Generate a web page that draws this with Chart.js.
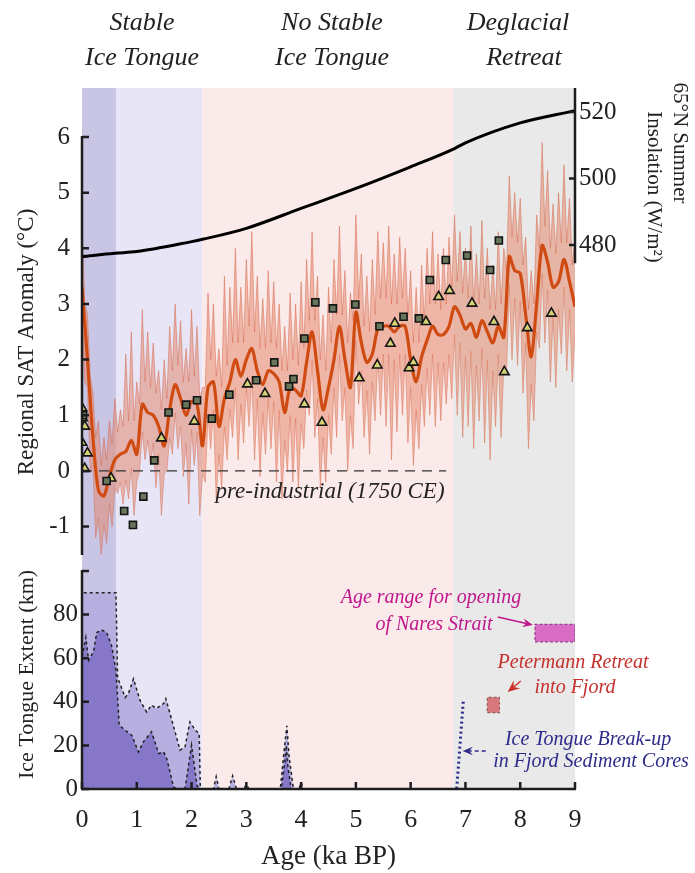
<!DOCTYPE html>
<html>
<head>
<meta charset="utf-8">
<title>Petermann ice tongue and regional temperature</title>
<script src="https://cdn.jsdelivr.net/npm/chart.js@4.4.1/dist/chart.umd.min.js"></script>
<style>
  html, body { margin: 0; padding: 0; background: #fff; }
  canvas { display: block; }
</style>
</head>
<body>
<canvas id="chart" width="695" height="873"></canvas>
<script>
// shaded periods behind both panels (ka BP)
var periodStart = [0, 0.62, 2.2, 6.78];
var periodEnd = [0.62, 2.2, 6.78, 9];
var periodColor = ['#c9c6e5', '#e7e5f6', '#fbeaea', '#e9e9e9'];

// 65N summer insolation (W/m2)
var insolAge = [0, 0.6, 1, 2, 2.2, 3, 4, 5, 6, 6.8, 7, 8, 9];
var insol = [476.5, 477.5, 478, 481, 481.7, 485, 491, 497, 503.5, 509, 510.7, 516.7, 520.4];

// regional SAT anomaly envelope, upper and lower bounds (every 0.05 ka)
var envStep = 0.05;
var upperT = [
  4.5, 3.0, 2.8, 1.7, 1.4, 0.6, 0.9, 0.1, 0.6, 0.2,
  0.9, 0.5, 1.3, 0.7, 1.1, 0.8, 2.1, 0.9, 2.5, 0.9,
  1.6, 1.2, 2.9, 1.6, 2.5, 1.5, 2.3, 1.4, 1.8, 1.1,
  2.0, 1.3, 2.6, 1.8, 3.0, 1.9, 2.7, 1.6, 2.2, 1.6,
  2.9, 1.7, 2.6, 1.3, 1.5, 1.5, 3.2, 2.0, 3.0, 1.7,
  2.2, 1.5, 3.5, 1.9, 3.3, 2.3, 4.0, 2.3, 3.3, 2.3,
  3.8, 2.6, 4.3, 2.5, 3.5, 2.2, 3.1, 2.2, 3.6, 2.3,
  3.4, 2.2, 3.0, 1.8, 2.6, 1.8, 3.2, 2.0, 3.0, 1.9,
  3.4, 2.2, 3.8, 2.7, 4.3, 2.7, 3.5, 2.0, 2.8, 1.8,
  3.3, 2.3, 3.8, 2.8, 4.4, 2.8, 3.6, 2.3, 3.2, 2.7,
  4.6, 3.1, 3.9, 2.6, 3.5, 2.5, 3.8, 2.8, 4.3, 3.1,
  4.1, 3.1, 4.4, 3.0, 3.9, 3.0, 4.2, 3.1, 4.0, 2.8,
  3.6, 2.3, 3.3, 2.3, 3.7, 2.7, 4.0, 3.0, 4.3, 3.0,
  3.9, 2.9, 4.0, 3.0, 4.2, 3.3, 4.6, 3.4, 4.3, 3.2,
  4.0, 3.1, 4.4, 3.0, 3.9, 3.0, 4.5, 3.1, 4.0, 2.9,
  3.7, 2.9, 4.3, 3.0, 4.0, 3.6, 5.3, 4.2, 5.0, 4.1,
  4.9, 3.7, 4.2, 2.9, 3.6, 3.0, 4.6, 4.0, 5.9, 4.4,
  5.4, 4.0, 4.8, 3.9, 5.0, 4.1, 5.5, 4.1, 4.9, 3.7,
  4.2
];
var lowerT = [
  2.8, 1.6, 1.5, 0.0, 0.1, -1.2, -0.85, -1.5, -0.95, -1.3,
  -0.6, -1.0, -0.3, -0.4, -0.2, -0.6, -0.15, -0.5, 0.05, -0.8,
  -0.2, 0.0, 0.7, 0.2, 0.55, 0.1, 0.5, -0.3, 0.3, -0.8,
  -0.05, 0.0, 0.6, 0.3, 1.05, 0.4, 0.8, -0.1, 0.5, -0.6,
  0.75, 0.1, 0.7, -0.8, -0.05, -0.2, 1.0, 0.4, 1.1, -0.5,
  0.3, -0.3, 0.8, 0.2, 1.1, 0.6, 1.5, 0.2, 1.2, 0.5,
  1.5, 0.8, 1.7, 0.2, 1.3, -0.1, 1.05, 0.3, 1.3, 0.4,
  1.25, -0.2, 1.1, -0.5, 0.55, 0.0, 1.0, -0.2, 0.95, -0.3,
  0.85, 0.4, 1.45, 1.0, 2.0, 0.6, 1.3, -0.3, 0.6, -0.2,
  1.0, 0.3, 1.5, 0.6, 2.1, 0.9, 1.5, 0.0, 1.0, 0.4,
  2.35, 1.2, 1.8, 0.6, 1.45, 0.3, 1.6, 0.9, 2.05, 1.0,
  2.1, 0.8, 2.1, 0.2, 2.0, 0.7, 2.1, 1.0, 2.1, 0.5,
  1.5, 0.1, 1.1, 0.4, 1.55, 0.8, 1.85, 1.0, 2.1, 0.8,
  1.95, 0.9, 1.95, 1.2, 2.1, 1.3, 2.45, 1.0, 2.3, 0.6,
  2.05, 0.8, 2.15, 0.4, 1.9, 0.9, 2.2, 0.5, 2.0, 0.2,
  1.8, 0.8, 2.1, 0.6, 1.9, 1.8, 3.35, 2.0, 3.1, 1.9,
  3.05, 1.4, 2.3, 0.4, 1.55, 0.9, 2.5, 2.2, 3.55, 2.3,
  3.25, 1.6, 2.8, 1.5, 2.9, 2.1, 3.3, 1.8, 2.9, 1.6,
  2.45
];

// smoothed SAT anomaly (every 0.1 ka)
var smoothStep = 0.1;
var smoothT = [
  3.3, 2.0, 0.6, -0.35, -0.45, -0.1, 0.2, 0.3, 0.35, 0.55,
  0.3, 1.2, 1.05, 1.0, 0.8, 0.45, 1.1, 1.55, 1.3, 1.0,
  1.25, 1.2, 0.45, 1.5, 1.6, 0.8, 1.3, 1.6, 2.0, 1.7,
  2.0, 2.2, 1.8, 1.55, 1.8, 1.75, 1.6, 1.05, 1.5, 1.45,
  1.35, 1.95, 2.5, 1.8, 1.1, 1.5, 2.0, 2.6, 2.0, 1.5,
  2.85, 2.3, 1.95, 2.1, 2.55, 2.6, 2.6, 2.5, 2.6, 2.6,
  2.0, 1.6, 2.05, 2.35, 2.6, 2.45, 2.45, 2.6, 2.95, 2.8,
  2.55, 2.65, 2.4, 2.7, 2.5, 2.3, 2.6, 2.4, 3.85, 3.6,
  3.55, 2.8, 2.05, 3.0, 4.05, 3.75, 3.3, 3.4, 3.8, 3.4,
  2.95
];

// pre-industrial reference level
var preAge = [0, 6.65];
var preT = [0, 0];

// proxy sites: squares and triangles
var sqAge = [0.02, 0.45, 0.77, 0.93, 1.12, 1.32, 1.58, 1.9, 2.1, 2.37, 2.69, 3.18, 3.51, 3.78, 3.86, 4.06, 4.26, 4.58, 4.99, 5.43, 5.87, 6.15, 6.35, 6.64, 7.03, 7.45, 7.61];
var sqT = [1.0, -0.18, -0.72, -0.97, -0.46, 0.19, 1.05, 1.19, 1.27, 0.94, 1.37, 1.63, 1.95, 1.52, 1.65, 2.38, 3.03, 2.92, 2.99, 2.6, 2.77, 2.74, 3.43, 3.79, 3.87, 3.61, 4.14];
var triAge = [0.0, 0.01, 0.05, 0.0, 0.1, 0.05, 0.53, 1.45, 2.05, 3.02, 3.34, 4.06, 4.38, 5.06, 5.39, 5.63, 5.71, 5.97, 6.05, 6.28, 6.51, 6.71, 7.12, 7.52, 7.71, 8.13, 8.57];
var triT = [1.13, 0.95, 0.8, 0.51, 0.32, 0.04, -0.13, 0.59, 0.89, 1.56, 1.39, 1.2, 0.87, 1.67, 1.9, 2.29, 2.65, 1.85, 1.95, 2.68, 3.13, 3.24, 3.01, 2.68, 1.78, 2.57, 2.83];

// ice tongue extent (km): upper bound and best estimate
var outerAge = [0, 0, 0.62, 0.65, 0.79, 0.85, 0.94, 1.06, 1.18, 1.27, 1.36, 1.49, 1.53, 1.64, 1.79, 1.88, 1.97, 2.07, 2.14, 2.16, 2.4, 2.45, 2.5, 2.68, 2.75, 2.82, 2.95, 3.0, 3.05, 3.62, 3.7, 3.74, 3.78, 3.86, 3.96, 4.0, 4.04, 4.1];
var outerKm = [0, 90, 90, 51, 42, 44, 50.5, 40.6, 35.3, 38.4, 36.9, 39.2, 41.4, 31.6, 17.8, 19.3, 30.7, 26.9, 25.4, 0, 0, 5.6, 0, 0, 6, 0, 0, 2, 0, 0, 20, 29, 15, 0, 0, 3, 0, 0];
var innerAge = [0, 0, 0.07, 0.12, 0.21, 0.27, 0.36, 0.45, 0.54, 0.62, 0.68, 0.79, 0.91, 1.03, 1.12, 1.27, 1.4, 1.49, 1.55, 1.67, 1.73, 1.88, 2.0, 2.1, 2.14, 3.64, 3.7, 3.73, 3.76, 3.82];
var innerKm = [0, 60.4, 69.5, 59, 63, 71.8, 72.9, 71.8, 65.7, 54.3, 29.2, 26.9, 24.6, 17, 21.6, 26.2, 16.3, 17, 13.7, 1, 0, 0, 20, 1.5, 0, 0, 12, 20, 10, 0];

// independent constraints
var naresAge = [8.27, 9.0];
var naresKm = [67.5, 75.5];
var peteAge = [7.4, 7.62];
var peteKm = [35, 42];
var breakAge = [6.96, 6.84];
var breakKm = [40, 0];

var tempTicks = [-1, 0, 1, 2, 3, 4, 5, 6];
var extentTicks = [0, 20, 40, 60, 80];
var insolTicks = [480, 500, 520];

function pairs(xs, ys) {
  var out = [];
  for (var i = 0; i < xs.length; i++) out.push({x: xs[i], y: ys[i]});
  return out;
}
function series(step, ys) {
  var out = [];
  for (var i = 0; i < ys.length; i++) out.push({x: +(i * step).toFixed(2), y: ys[i]});
  return out;
}
function box(ages, kms) {
  return pairs([ages[0], ages[1], ages[1], ages[0], ages[0]], [kms[0], kms[0], kms[1], kms[1], kms[0]]);
}
function tickList(values) {
  return function (s) { s.ticks = values.map(function (v) { return {value: v}; }); };
}

function arrow(ctx, x0, y0, x1, y1, color, dash, head) {
  var a = Math.atan2(y1 - y0, x1 - x0);
  ctx.save();
  ctx.strokeStyle = color;
  ctx.fillStyle = color;
  ctx.lineWidth = 1.5;
  ctx.setLineDash(dash || []);
  ctx.beginPath();
  ctx.moveTo(x0, y0);
  ctx.lineTo(x1 - Math.cos(a) * head * 0.6, y1 - Math.sin(a) * head * 0.6);
  ctx.stroke();
  ctx.setLineDash([]);
  ctx.beginPath();
  ctx.moveTo(x1, y1);
  ctx.lineTo(x1 - head * Math.cos(a - 0.4), y1 - head * Math.sin(a - 0.4));
  ctx.lineTo(x1 - head * 0.6 * Math.cos(a), y1 - head * 0.6 * Math.sin(a));
  ctx.lineTo(x1 - head * Math.cos(a + 0.4), y1 - head * Math.sin(a + 0.4));
  ctx.closePath();
  ctx.fill();
  ctx.restore();
}

function text(ctx, str, x, y, font, color) {
  ctx.font = font;
  ctx.fillStyle = color;
  ctx.textAlign = 'center';
  ctx.textBaseline = 'middle';
  ctx.fillText(str, x, y);
}

function rotatedText(ctx, str, x, y, angle, font) {
  ctx.save();
  ctx.translate(x, y);
  ctx.rotate(angle);
  text(ctx, str, 0, 0, font, '#222');
  ctx.restore();
}

var decor = {
  id: 'decor',
  beforeDraw: function (chart) {
    var ctx = chart.ctx, area = chart.chartArea, xs = chart.scales.x;
    ctx.save();
    ctx.fillStyle = '#fff';
    ctx.fillRect(0, 0, chart.width, chart.height);
    for (var i = 0; i < periodStart.length; i++) {
      var x0 = xs.getPixelForValue(periodStart[i]);
      var x1 = xs.getPixelForValue(periodEnd[i]);
      ctx.fillStyle = periodColor[i];
      ctx.fillRect(x0, area.top, x1 - x0, area.bottom - area.top);
    }
    ctx.restore();
  },
  afterDatasetsDraw: function (chart) {
    var ctx = chart.ctx, area = chart.chartArea, s = chart.scales;
    var xs = s.x, yT = s.yT, yE = s.yE, yI = s.yI;
    ctx.save();
    ctx.strokeStyle = '#1e1e1e';
    ctx.lineWidth = 2.5;

    // temperature axis
    var l = area.left;
    ctx.beginPath();
    ctx.moveTo(l, yT.getPixelForValue(6) - 1);
    ctx.lineTo(l, yT.bottom - 5);
    tempTicks.forEach(function (v) {
      var y = yT.getPixelForValue(v);
      ctx.moveTo(l, y); ctx.lineTo(l + 7, y);
    });
    ctx.stroke();

    // ice extent axis
    ctx.beginPath();
    ctx.moveTo(l, yE.getPixelForValue(100) - 1);
    ctx.lineTo(l, yE.getPixelForValue(0));
    extentTicks.concat([100]).forEach(function (v) {
      var y = yE.getPixelForValue(v);
      ctx.moveTo(l, y); ctx.lineTo(l + 7, y);
    });
    ctx.stroke();

    // age axis
    var b = area.bottom;
    ctx.beginPath();
    ctx.moveTo(xs.getPixelForValue(0) - 1, b);
    ctx.lineTo(xs.getPixelForValue(9) + 1, b);
    for (var k = 0; k <= 9; k++) {
      var x = xs.getPixelForValue(k);
      ctx.moveTo(x, b); ctx.lineTo(x, b - 7);
    }
    ctx.stroke();

    // insolation axis
    var r = area.right;
    ctx.beginPath();
    ctx.moveTo(r, area.top);
    ctx.lineTo(r, yI.getPixelForValue(474.5));
    insolTicks.forEach(function (v) {
      var y = yI.getPixelForValue(v);
      ctx.moveTo(r, y); ctx.lineTo(r - 6, y);
    });
    ctx.stroke();

    // annotation arrows
    arrow(ctx, xs.getPixelForValue(7.59), yE.getPixelForValue(78.9),
      xs.getPixelForValue(8.23), yE.getPixelForValue(75.2), '#c0168c', null, 11);
    arrow(ctx, xs.getPixelForValue(8.01), yE.getPixelForValue(49.5),
      xs.getPixelForValue(7.77), yE.getPixelForValue(44.5), '#cc3026', null, 13);
    arrow(ctx, xs.getPixelForValue(7.37), yE.getPixelForValue(17.4),
      xs.getPixelForValue(6.95), yE.getPixelForValue(17.4), '#2d2b8a', [4, 3], 11);
    ctx.restore();
  },
  afterDraw: function (chart) {
    var ctx = chart.ctx;
    ctx.save();
    var head = 'italic 26px "Liberation Serif"';
    text(ctx, 'Stable', 142, 23, head, '#222');
    text(ctx, 'Ice Tongue', 142, 58, head, '#222');
    text(ctx, 'No Stable', 332, 23, head, '#222');
    text(ctx, 'Ice Tongue', 332, 58, head, '#222');
    text(ctx, 'Deglacial', 518, 23, head, '#222');
    text(ctx, 'Retreat', 524, 58, head, '#222');

    text(ctx, 'pre-industrial (1750 CE)', 330, 492, 'italic 23px "Liberation Serif"', '#222');

    var ann = 'italic 20px "Liberation Serif"';
    text(ctx, 'Age range for opening', 431, 598, ann, '#c0168c');
    text(ctx, 'of Nares Strait', 434, 625, ann, '#c0168c');
    text(ctx, 'Petermann Retreat', 573, 663, ann, '#c6302c');
    text(ctx, 'into Fjord', 575, 688, ann, '#c6302c');
    text(ctx, 'Ice Tongue Break-up', 588, 740, ann, '#2d2b8a');
    text(ctx, 'in Fjord Sediment Cores', 591, 762, ann, '#2d2b8a');

    // axis titles
    rotatedText(ctx, 'Regional SAT Anomaly (°C)', 27, 342, -Math.PI / 2, '23px "Liberation Serif"');
    rotatedText(ctx, '65°N Summer', 680, 143, Math.PI / 2, '21px "Liberation Serif"');
    rotatedText(ctx, 'Insolation (W/m²)', 654, 187, Math.PI / 2, '21px "Liberation Serif"');
    ctx.restore();
  }
};

Chart.defaults.font.family = '"Liberation Serif", "Times New Roman", serif';
Chart.defaults.color = '#222';

var canvasElement = document.getElementById('chart');
var config = {
  type: 'line',
  data: {
    datasets: [
      { label: 'SAT upper', data: series(envStep, upperT), yAxisID: 'yT', order: 3,
        borderColor: 'rgba(212,100,70,0.6)', borderWidth: 0.8, pointRadius: 0, tension: 0,
        backgroundColor: 'rgba(228,130,100,0.5)', fill: 1 },
      { label: 'SAT lower', data: series(envStep, lowerT), yAxisID: 'yT', order: 3,
        borderColor: 'rgba(212,100,70,0.6)', borderWidth: 0.8, pointRadius: 0, tension: 0, fill: false },
      { label: 'SAT smoothed', data: series(smoothStep, smoothT), yAxisID: 'yT', order: 1,
        borderColor: '#cf4b12', borderWidth: 3.2, pointRadius: 0, tension: 0.3, fill: false },
      { label: 'Insolation', data: pairs(insolAge, insol), yAxisID: 'yI', order: 1,
        borderColor: '#000', borderWidth: 3, pointRadius: 0, cubicInterpolationMode: 'monotone', fill: false },
      { label: 'pre-industrial', data: pairs(preAge, preT), yAxisID: 'yT', order: 2,
        borderColor: '#333', borderWidth: 1.2, borderDash: [10, 7], pointRadius: 0, fill: false },
      { label: 'sites (squares)', data: pairs(sqAge, sqT), yAxisID: 'yT', order: 0, showLine: false,
        pointStyle: 'rect', pointRadius: 5, backgroundColor: '#68775c', borderColor: '#151515', borderWidth: 1.6 },
      { label: 'sites (triangles)', data: pairs(triAge, triT), yAxisID: 'yT', order: 0, showLine: false,
        pointStyle: 'triangle', pointRadius: 5.5, backgroundColor: '#d8d276', borderColor: '#151515', borderWidth: 1.6 },
      { label: 'extent upper', data: pairs(outerAge, outerKm), yAxisID: 'yE', order: 6,
        borderColor: '#222', borderWidth: 1.5, borderDash: [3, 3], pointRadius: 0, tension: 0,
        backgroundColor: '#b8afe1', fill: 'origin' },
      { label: 'extent best', data: pairs(innerAge, innerKm), yAxisID: 'yE', order: 5,
        borderColor: '#222', borderWidth: 1.5, borderDash: [3, 3], pointRadius: 0, tension: 0,
        backgroundColor: '#8677c9', fill: 'origin' },
      { label: 'Nares Strait', data: box(naresAge, naresKm), yAxisID: 'yE', order: 4,
        borderColor: '#9a3f8c', borderWidth: 1.2, borderDash: [3, 2], pointRadius: 0,
        backgroundColor: '#d86cc4', fill: 'shape' },
      { label: 'Petermann retreat', data: box(peteAge, peteKm), yAxisID: 'yE', order: 4,
        borderColor: '#9a5a5a', borderWidth: 1.2, borderDash: [3, 2], pointRadius: 0,
        backgroundColor: '#d9787c', fill: 'shape' },
      { label: 'Break-up', data: pairs(breakAge, breakKm), yAxisID: 'yE', order: 4,
        borderColor: '#2b2a8c', borderWidth: 3, borderDash: [2, 3], pointRadius: 0, fill: false }
    ]
  },
  options: {
    responsive: false,
    animation: false,
    devicePixelRatio: 1,
    layout: { padding: { top: 88, left: 0, right: 0, bottom: 0 } },
    plugins: { legend: { display: false }, tooltip: { enabled: false } },
    scales: {
      x: {
        type: 'linear', position: 'bottom', min: 0, max: 9,
        border: { display: false }, grid: { display: false, drawTicks: false },
        ticks: { stepSize: 1, padding: 16, font: { size: 26 }, autoSkip: false },
        title: { display: true, text: 'Age (ka BP)', font: { size: 27 }, padding: { top: 0, bottom: 0 } },
        afterFit: function (s) { s.height = 84; }
      },
      // the two left axes share one column: extent below, temperature above
      yE: {
        type: 'linear', position: 'left', stack: 'left', stackWeight: 229, min: 0, max: 105,
        border: { display: false }, grid: { display: false, drawTicks: false },
        ticks: { padding: 4, font: { size: 25 }, autoSkip: false },
        afterBuildTicks: tickList(extentTicks),
        title: { display: true, text: 'Ice Tongue Extent (km)', font: { size: 22 }, padding: { top: 14 } },
        afterFit: function (s) { s.width = 82; }
      },
      yT: {
        type: 'linear', position: 'left', stack: 'left', stackWeight: 472, min: -1.6, max: 6.88,
        border: { display: false }, grid: { display: false, drawTicks: false },
        ticks: { padding: 12, font: { size: 25 }, autoSkip: false },
        afterBuildTicks: tickList(tempTicks),
        afterFit: function (s) { s.width = 82; }
      },
      yI: {
        type: 'linear', position: 'right', min: 316.4, max: 527.2,
        border: { display: false }, grid: { display: false, drawTicks: false },
        ticks: { padding: 4, font: { size: 25 }, autoSkip: false },
        afterBuildTicks: tickList(insolTicks),
        afterFit: function (s) { s.width = 120; }
      }
    }
  },
  plugins: [decor]
};

var chart = new Chart(canvasElement, config);
</script>
</body>
</html>
